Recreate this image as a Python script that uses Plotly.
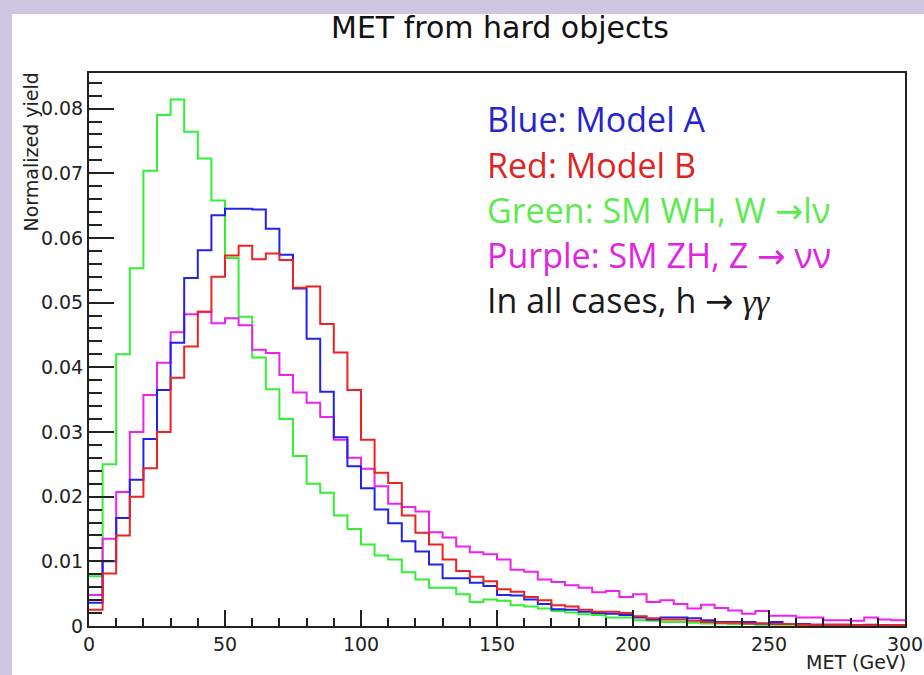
import plotly.graph_objects as go

# ---------------- data (normalized yield per 5 GeV bin, 0-300 GeV) ----------------
bin_width = 5
bin_edges = [i * bin_width for i in range(61)]

green_wh = [0.0077, 0.0250, 0.0420, 0.0553, 0.0704, 0.0790, 0.0814, 0.0764, 0.0723, 0.0658,
            0.0569, 0.0478, 0.0415, 0.0366, 0.0320, 0.0263, 0.0220, 0.0206, 0.0171, 0.0150,
            0.0126, 0.0109, 0.0103, 0.0083, 0.0072, 0.0059, 0.0059, 0.0049, 0.0037, 0.0041,
            0.0039, 0.0032, 0.0030, 0.0027, 0.0023, 0.0021, 0.0018, 0.0017, 0.0013, 0.0013,
            0.0009, 0.0008, 0.0006, 0.0006, 0.0005, 0.0004, 0.0004, 0.0003, 0.0003, 0.0002,
            0.0002, 0.0002, 0.0001, 0.0001, 0.0001, 0.0001, 0.0001, 0.0000, 0.0001, 0.0000]

magenta_zh = [0.0048, 0.0135, 0.0207, 0.0300, 0.0357, 0.0407, 0.0454, 0.0482, 0.0486, 0.0468,
              0.0476, 0.0465, 0.0427, 0.0422, 0.0388, 0.0361, 0.0345, 0.0323, 0.0288, 0.0260,
              0.0243, 0.0216, 0.0189, 0.0184, 0.0177, 0.0145, 0.0137, 0.0123, 0.0114, 0.0111,
              0.0103, 0.0087, 0.0084, 0.0072, 0.0068, 0.0063, 0.0059, 0.0052, 0.0054, 0.0045,
              0.0049, 0.0037, 0.0040, 0.0034, 0.0027, 0.0033, 0.0028, 0.0024, 0.0019, 0.0023,
              0.0016, 0.0016, 0.0013, 0.0013, 0.0009, 0.0009, 0.0008, 0.0013, 0.0010, 0.0009]

blue_model_a = [0.0036, 0.0100, 0.0167, 0.0226, 0.0289, 0.0365, 0.0438, 0.0538, 0.0581, 0.0635,
                0.0645, 0.0645, 0.0644, 0.0614, 0.0574, 0.0522, 0.0444, 0.0362, 0.0292, 0.0247,
                0.0213, 0.0180, 0.0159, 0.0131, 0.0115, 0.0095, 0.0074, 0.0074, 0.0067, 0.0062,
                0.0048, 0.0047, 0.0041, 0.0034, 0.0026, 0.0025, 0.0022, 0.0020, 0.0019, 0.0017,
                0.0013, 0.0010, 0.0013, 0.0013, 0.0012, 0.0009, 0.0006, 0.0006, 0.0006, 0.0004,
                0.0006, 0.0003, 0.0003, 0.0002, 0.0002, 0.0002, 0.0001, 0.0002, 0.0001, 0.0001]

red_model_b = [0.0025, 0.0081, 0.0140, 0.0200, 0.0244, 0.0300, 0.0384, 0.0432, 0.0486, 0.0540,
               0.0573, 0.0588, 0.0567, 0.0576, 0.0566, 0.0523, 0.0525, 0.0467, 0.0423, 0.0365,
               0.0288, 0.0237, 0.0221, 0.0171, 0.0144, 0.0126, 0.0103, 0.0085, 0.0076, 0.0069,
               0.0057, 0.0053, 0.0045, 0.0040, 0.0032, 0.0030, 0.0025, 0.0022, 0.0022, 0.0020,
               0.0015, 0.0012, 0.0010, 0.0010, 0.0008, 0.0006, 0.0005, 0.0005, 0.0004, 0.0004,
               0.0003, 0.0003, 0.0002, 0.0002, 0.0002, 0.0002, 0.0001, 0.0001, 0.0001, 0.0001]

series_names = ["SM WH", "SM ZH", "Model A", "Model B"]
series_colors = ["#33F033", "#EE22EE", "#2222EE", "#EE2222"]

ARROW = "<span style='font-family:DejaVu Sans'>→</span>"
legend_lines = [
    ("Blue: Model A", "#2424D0"),
    ("Red: Model B", "#E02424"),
    ("Green: SM WH, W " + ARROW + "lν", "#5CEB4F"),
    ("Purple: SM ZH, Z " + ARROW + " νν", "#E024E0"),
    ("In all cases, h " + ARROW + " <i><span style='font-family:Liberation Serif'>γγ</span></i>", "#1a1a1a"),
]

x_ticks = [0, 50, 100, 150, 200, 250, 300]
y_ticks = [0, 0.01, 0.02, 0.03, 0.04, 0.05, 0.06, 0.07, 0.08]

# ---------------- figure ----------------
W, H = 924, 675
ml, mr, mt, mb = 89, 19, 73, 49
pw, ph = W - ml - mr, H - mt - mb

def px_to_paper_x(px):
    return (px - ml) / pw

def px_to_paper_y(py):
    return (H - mb - py) / ph

fig = go.Figure()
for vals, name, col in zip([green_wh, magenta_zh, blue_model_a, red_model_b], series_names, series_colors):
    fig.add_trace(go.Scatter(
        x=bin_edges,
        y=vals + [vals[-1]],
        mode="lines",
        line=dict(shape="hv", color=col, width=2),
        name=name,
        showlegend=False,
        hoverinfo="skip",
    ))

axis_font = dict(family="DejaVu Sans", size=19, color="#222222")

fig.update_layout(
    width=W, height=H,
    autosize=False,
    margin=dict(l=ml, r=mr, t=mt, b=mb, autoexpand=False),
    paper_bgcolor="#CFC7E2",
    plot_bgcolor="white",
    showlegend=False,
    title=dict(
        text="MET from hard objects",
        font=dict(family="DejaVu Sans", size=30, color="#111111"),
        x=px_to_paper_x(500), xref="paper", xanchor="center",
        y=1 - 27 / H, yref="container", yanchor="middle",
    ),
    xaxis=dict(
        range=[0, 300],
        automargin=False,
        tickvals=x_ticks,
        ticktext=[str(v) for v in x_ticks],
        ticks="inside", ticklen=16, tickwidth=1.5, tickcolor="#222222",
        minor=dict(ticks="inside", ticklen=8, dtick=10, tick0=0, tickwidth=1.5, tickcolor="#222222"),
        showline=True, linecolor="#222222", linewidth=2, mirror=True,
        showgrid=False, zeroline=False,
        tickfont=axis_font,
    ),
    yaxis=dict(
        range=[0, 0.0855],
        automargin=False,
        tickvals=y_ticks,
        ticktext=["0"] + ["%.2f" % v for v in y_ticks[1:]],
        ticks="inside", ticklen=25, tickwidth=1.5, tickcolor="#222222",
        minor=dict(ticks="inside", ticklen=13, dtick=0.002, tick0=0, tickwidth=1.5, tickcolor="#222222"),
        showline=True, linecolor="#222222", linewidth=2, mirror=True,
        showgrid=False, zeroline=False,
        tickfont=axis_font,
    ),
)

# white page over lavender border
fig.add_shape(
    type="rect", xref="paper", yref="paper",
    x0=px_to_paper_x(12), x1=px_to_paper_x(W + 10),
    y0=px_to_paper_y(H + 10), y1=px_to_paper_y(14),
    fillcolor="white", line=dict(width=0), layer="below",
)

# axis titles (ROOT-style, aligned to the axis end)
fig.add_annotation(
    text="Normalized yield", textangle=-90,
    xref="paper", yref="paper",
    x=px_to_paper_x(31), y=px_to_paper_y(71),
    xanchor="center", yanchor="top", showarrow=False,
    font=dict(family="DejaVu Sans", size=19, color="#222222"),
)
fig.add_annotation(
    text="MET (GeV)",
    xref="paper", yref="paper",
    x=px_to_paper_x(908), y=px_to_paper_y(662),
    xanchor="right", yanchor="middle", showarrow=False,
    font=dict(family="DejaVu Sans", size=19, color="#222222"),
)

# text legend
line_centers = [119, 165, 210, 255, 300]
for (txt, col), yc in zip(legend_lines, line_centers):
    fig.add_annotation(
        text=txt, xref="paper", yref="paper",
        x=px_to_paper_x(485), y=px_to_paper_y(yc),
        xanchor="left", yanchor="middle", showarrow=False,
        font=dict(family="Open Sans", size=34, color=col),
    )

fig.write_html(
    "out.html",
    config={"displayModeBar": False},
    post_script="document.body.style.margin='0';document.body.style.background='#CFC7E2';",
)
